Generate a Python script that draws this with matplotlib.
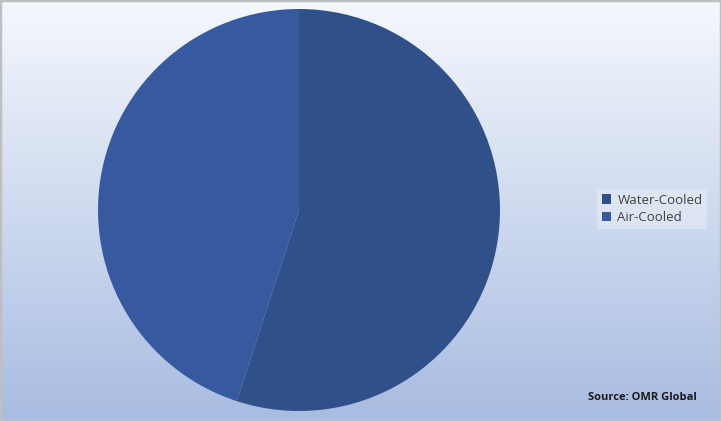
import matplotlib.pyplot as plt
import numpy as np
from matplotlib.patches import Patch, Rectangle

# Data
labels = ['Water-Cooled', 'Air-Cooled']
shares = [55.0, 45.0]
colors = ['#2F5088', '#3659A0']

W, H = 721, 421
fig = plt.figure(figsize=(W / 100, H / 100), dpi=100)

# background gradient (white at top -> light blue at bottom)
bg = fig.add_axes([0, 0, 1, 1])
top = np.array([0xF5, 0xF8, 0xFD]) / 255
bot = np.array([0xA8, 0xBC, 0xE1]) / 255
t = np.linspace(0, 1, 256)[:, None]
grad = top * (1 - t) + bot * t
bg.imshow(grad[:, None, :].repeat(2, axis=1), aspect='auto', extent=[0, 1, 0, 1])
bg.add_patch(Rectangle((0, 0), 1, 1, transform=bg.transAxes, fill=False,
                       edgecolor='#BFBFBF', lw=2.5))
bg.set_axis_off()

# pie
cx, cy, r = 299, 210, 201
ax = fig.add_axes([(cx - r) / W, 1 - (cy + r) / H, 2 * r / W, 2 * r / H])
ax.pie(shares, colors=colors, startangle=90, counterclock=False,
       wedgeprops=dict(linewidth=0))
ax.set_xlim(-1, 1)
ax.set_ylim(-1, 1)
ax.set_aspect('auto')
ax.set_axis_off()

# legend
handles = [Patch(facecolor=c, edgecolor='none') for c in colors]
leg = fig.legend(handles, labels, loc='center left',
                 bbox_to_anchor=(597 / W, 1 - 209 / H),
                 frameon=True, fontsize=9.5, handlelength=0.7, handleheight=0.7,
                 handletextpad=0.5, labelspacing=0.35, borderpad=0.35,
                 borderaxespad=0, prop={'family': 'Open Sans', 'size': 9.5})
leg.get_frame().set_facecolor('#E4EAF6')
leg.get_frame().set_alpha(0.7)
leg.get_frame().set_edgecolor('none')
leg.get_frame().set_boxstyle('square', pad=0)
for txt in leg.get_texts():
    txt.set_color('#404040')

fig.text(697 / W, 1 - 398 / H, 'Source: OMR Global', ha='right', va='center',
         fontsize=8, fontweight='bold', family='Open Sans', color='#1A1A1A')

fig.savefig('out.png', dpi=100)
